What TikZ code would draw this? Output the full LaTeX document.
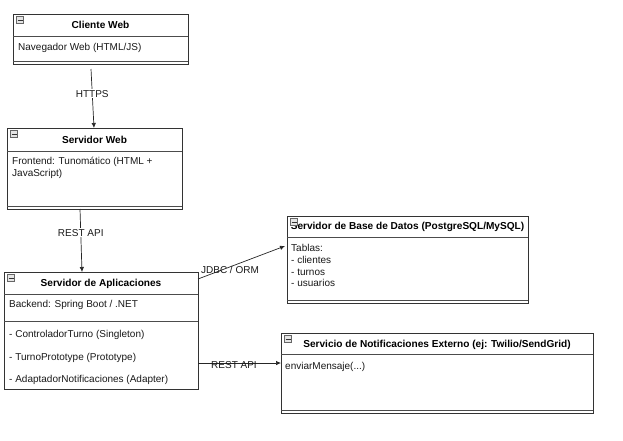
\documentclass[tikz,border=0pt]{standalone}
\usepackage{fontspec}
\setmainfont{Liberation Sans}
\usetikzlibrary{arrows.meta,calc}
\begin{document}
\begin{tikzpicture}[x=1pt,y=-1pt,
  box/.style={draw=black!80,line width=0.8pt,fill=white,anchor=north west,inner sep=0pt,outer sep=0pt},
  sep/.style={draw=black!70,line width=0.6pt},
  title/.style={font=\fontsize{10.1}{11.5}\selectfont\bfseries,text=black,inner sep=0pt},
  body/.style={font=\fontsize{10}{12.2}\selectfont,text=black!90,anchor=west,inner sep=0pt,align=left},
  lbl/.style={font=\fontsize{10}{12}\selectfont,text=black!90,inner sep=1pt},
  arr/.style={draw=black!85,line width=0.7pt,-{Latex[length=5pt,width=4.5pt]}},
  icon/.style={draw=black!60,fill=black!10,line width=0.4pt,minimum size=7pt,inner sep=0pt},
  minus/.style={draw=black!80,line width=0.9pt}
]
\useasboundingbox (0,0) rectangle (623,440);
\fill[white] (0,0) rectangle (623,440);

% Cliente Web
\node[box,minimum width=175pt,minimum height=50pt] (cw) at (13,14) {};
\draw[sep] (13,36) -- (188,36);
\draw[sep] (13,61) -- (188,61);
\node[icon] (cwi) at (20,20) {};
\draw[minus] (17.5,20) -- (22.5,20);
\node[title] (cwt) at (100.5,25) {Cliente Web};
\node[body] (cwb) at (18,48) {Navegador Web (HTML/JS)};

% Servidor Web
\node[box,minimum width=175pt,minimum height=81pt] (sw) at (7,128) {};
\draw[sep] (7,151) -- (182,151);
\draw[sep] (7,206) -- (182,206);
\node[icon] (swi) at (14,134) {};
\draw[minus] (11.5,134) -- (16.5,134);
\node[title] (swt) at (94.5,140) {Servidor Web};
\node[body,anchor=north west] (swb) at (12,156.5) {Frontend: Tunomático (HTML +\\[0.6pt]JavaScript)};

% Servidor de Aplicaciones
\node[box,minimum width=194pt,minimum height=117pt] (sa) at (4,272) {};
\draw[sep] (4,294) -- (198,294);
\draw[sep] (4,321) -- (198,321);
\node[icon] (sai) at (11,278) {};
\draw[minus] (8.5,278) -- (13.5,278);
\node[title] (sat) at (101,284) {Servidor de Aplicaciones};
\node[body] (sab) at (9,305) {Backend: Spring Boot / .NET};
\node[body] (sa1) at (9,335) {- ControladorTurno (Singleton)};
\node[body] (sa2) at (9,357.5) {- TurnoPrototype (Prototype)};
\node[body] (sa3) at (9,380) {- AdaptadorNotificaciones (Adapter)};

% Base de datos
\node[box,minimum width=241pt,minimum height=87pt] (db) at (287,216) {};
\draw[sep] (287,237) -- (528,237);
\draw[sep] (287,300) -- (528,300);
\node[title] (dbt) at (407.5,227) {Servidor de Base de Datos (PostgreSQL/MySQL)};
\node[icon] (dbi) at (294,222) {};
\draw[minus] (291.5,222) -- (296.5,222);
\node[body,anchor=north west] (dbb) at (291,244) {Tablas:\\[-0.4pt]- clientes\\[-0.4pt]- turnos\\[-0.4pt]- usuarios};

% Notificaciones
\node[box,minimum width=312pt,minimum height=80pt] (ns) at (281,333) {};
\draw[sep] (281,354) -- (593,354);
\draw[sep] (281,410) -- (593,410);
\node[icon] (nsi) at (288,339) {};
\draw[minus] (285.5,339) -- (290.5,339);
\node[title] (nst) at (437,345) {Servicio de Notificaciones Externo (ej: Twilio/SendGrid)};
\node[body] (nsb) at (285,367) {enviarMensaje(...)};

% Connectors
\draw[arr] ([xshift=-9.5pt,yshift=-5pt]cw.south) -- node[lbl,fill=white,pos=0.42] (l1) {HTTPS} ([xshift=-0.5pt]sw.north);
\draw[arr] ([xshift=-14.5pt]sw.south) -- node[lbl,fill=white,pos=0.38] (l2) {REST API} ([xshift=-19pt]sa.north);
\draw[arr] ([yshift=-7pt]sa.north east) -- ([xshift=-2pt,yshift=13.5pt]db.west);
\node[lbl] (l3) at (230,270) {JDBC / ORM};
\draw[arr] ([yshift=-32.5pt]sa.east) -- ([yshift=10pt]ns.west);
\node[lbl] (l4) at (234,365.5) {REST API};
\end{tikzpicture}
\end{document}
